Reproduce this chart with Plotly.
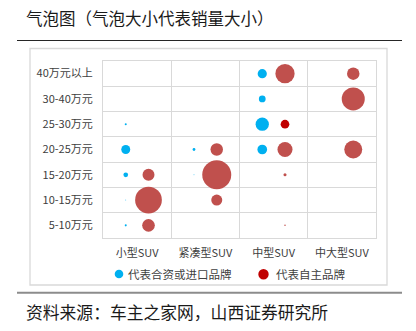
import plotly.graph_objects as go

# ---------------- data ----------------
categories = ["小型SUV", "紧凑型SUV", "中型SUV", "中大型SUV"]
price_bands = ["5-10万元", "10-15万元", "15-20万元", "20-25万元", "25-30万元", "30-40万元", "40万元以上"]

# 合资或进口品牌 (blue)
jv_cat = ["小型SUV", "小型SUV", "小型SUV", "小型SUV", "小型SUV",
          "紧凑型SUV", "紧凑型SUV",
          "中型SUV", "中型SUV", "中型SUV", "中型SUV"]
jv_band = ["25-30万元", "20-25万元", "15-20万元", "10-15万元", "5-10万元",
           "20-25万元", "15-20万元",
           "40万元以上", "30-40万元", "25-30万元", "20-25万元"]
jv_sales = [0.5, 9.6, 2.6, 0.1, 0.5,
            0.9, 0.1,
            10.0, 5.4, 21.0, 11.2]

# 自主品牌 (red)
own_cat = ["小型SUV", "小型SUV", "小型SUV",
           "紧凑型SUV", "紧凑型SUV", "紧凑型SUV",
           "中型SUV", "中型SUV", "中型SUV", "中型SUV", "中型SUV",
           "中大型SUV", "中大型SUV", "中大型SUV"]
own_band = ["15-20万元", "10-15万元", "5-10万元",
            "20-25万元", "15-20万元", "10-15万元",
            "40万元以上", "25-30万元", "20-25万元", "15-20万元", "5-10万元",
            "40万元以上", "30-40万元", "20-25万元"]
own_sales = [17.0, 85.0, 19.0,
             18.6, 100.0, 14.4,
             44.0, 9.0, 26.8, 1.1, 0.27,
             18.6, 63.0, 38.5]

legend_labels = ["代表合资或进口品牌", "代表自主品牌"]
title_text = "气泡图（气泡大小代表销量大小）"
source_text = "资料来源：车主之家网，山西证券研究所"

# ---------------- styling ----------------
W, H = 416, 331
ML, MR, MT, MB = 103, 40, 61, 93
PW, PH = W - ML - MR, H - MT - MB
FONT = "Noto Sans CJK SC"
BLUE = "#00B0F0"
RED = "#C0504D"
DARK_RED = "#C00000"
GRID = "#D9D9D9"
MAX_D = 29.0
sizeref = 2.0 * max(own_sales + jv_sales) / (MAX_D ** 2)


def px2x(px):
    return (px - ML) / PW


def px2y(py):
    return (H - MB - py) / PH


def xpos(cats, offset):
    return [categories.index(c) + offset for c in cats]


def ypos(bands):
    return [price_bands.index(b) + 0.5 for b in bands]


red_colors = [DARK_RED if (c, b) == ("中型SUV", "25-30万元") else RED
              for c, b in zip(own_cat, own_band)]

fig = go.Figure()
fig.add_trace(go.Scatter(
    x=xpos(jv_cat, 1 / 3), y=ypos(jv_band), mode="markers",
    name=legend_labels[0], showlegend=False,
    marker=dict(size=jv_sales, sizemode="area", sizeref=sizeref, sizemin=0,
                color=BLUE, opacity=1, line=dict(width=0)),
    hoverinfo="skip"))
fig.add_trace(go.Scatter(
    x=xpos(own_cat, 2 / 3), y=ypos(own_band), mode="markers",
    name=legend_labels[1], showlegend=False,
    marker=dict(size=own_sales, sizemode="area", sizeref=sizeref, sizemin=0,
                color=red_colors, opacity=1, line=dict(width=0)),
    hoverinfo="skip"))

shapes = [
    # title underline
    dict(type="line", xref="paper", yref="paper", x0=px2x(17), x1=px2x(402),
         y0=px2y(40.5), y1=px2y(40.5), line=dict(color="#262626", width=1.2)),
    # chart box
    dict(type="rect", xref="paper", yref="paper", x0=px2x(30), x1=px2x(387),
         y0=px2y(285), y1=px2y(48.5), line=dict(color=GRID, width=1.3), layer="below"),
    # bottom rule
    dict(type="line", xref="paper", yref="paper", x0=px2x(17), x1=px2x(402),
         y0=px2y(292.7), y1=px2y(292.7), line=dict(color="#8C8C8C", width=2)),
    # legend symbols
    dict(type="circle", xref="paper", yref="paper", xsizemode="pixel", ysizemode="pixel",
         xanchor=px2x(119), yanchor=px2y(274), x0=-4.3, x1=4.3, y0=-4.3, y1=4.3,
         fillcolor=BLUE, line=dict(width=0)),
    dict(type="circle", xref="paper", yref="paper", xsizemode="pixel", ysizemode="pixel",
         xanchor=px2x(263.5), yanchor=px2y(274.3), x0=-5.2, x1=5.2, y0=-5.2, y1=5.2,
         fillcolor=DARK_RED, line=dict(width=0)),
]

annotations = [
    dict(text=title_text, xref="paper", yref="paper", x=px2x(24), y=px2y(17.5),
         xanchor="left", yanchor="middle", showarrow=False,
         font=dict(family=FONT, size=16.5, color="#1a1a1a")),
    dict(text=source_text, xref="paper", yref="paper", x=px2x(24), y=px2y(311.5),
         xanchor="left", yanchor="middle", showarrow=False,
         font=dict(family=FONT, size=16.8, color="#1a1a1a")),
    dict(text=legend_labels[0], xref="paper", yref="paper", x=px2x(126), y=px2y(274),
         xanchor="left", yanchor="middle", showarrow=False,
         font=dict(family=FONT, size=11.5, color="#404040")),
    dict(text=legend_labels[1], xref="paper", yref="paper", x=px2x(274), y=px2y(274),
         xanchor="left", yanchor="middle", showarrow=False,
         font=dict(family=FONT, size=11.5, color="#404040")),
]

fig.update_layout(
    width=W, height=H,
    margin=dict(l=ML, r=MR, t=MT, b=MB, pad=0),
    paper_bgcolor="white", plot_bgcolor="white",
    showlegend=False,
    shapes=shapes, annotations=annotations,
    font=dict(family=FONT, size=11, color="#404040"),
)
fig.update_xaxes(
    range=[0, len(categories)], tickmode="array",
    tickvals=[i + 0.5 for i in range(len(categories))], ticktext=categories,
    showgrid=False, zeroline=False, showline=True, mirror=True,
    linecolor=GRID, linewidth=1, ticks="", ticklabelstandoff=5,
    tickfont=dict(family=FONT, size=11, color="#404040"),
    minor=dict(tickmode="array", tickvals=list(range(1, len(categories))),
               showgrid=True, gridcolor=GRID, gridwidth=1, ticks=""),
    fixedrange=True,
)
fig.update_yaxes(
    range=[0, len(price_bands)], tickmode="array",
    tickvals=[i + 0.5 for i in range(len(price_bands))], ticktext=price_bands,
    showgrid=False, zeroline=False, showline=True, mirror=True,
    linecolor=GRID, linewidth=1, ticks="", ticklabelstandoff=7,
    tickfont=dict(family=FONT, size=11, color="#404040"),
    minor=dict(tickmode="array", tickvals=list(range(1, len(price_bands))),
               showgrid=True, gridcolor=GRID, gridwidth=1, ticks=""),
    fixedrange=True,
)

fig.write_html("out.html", config={"displayModeBar": False})
